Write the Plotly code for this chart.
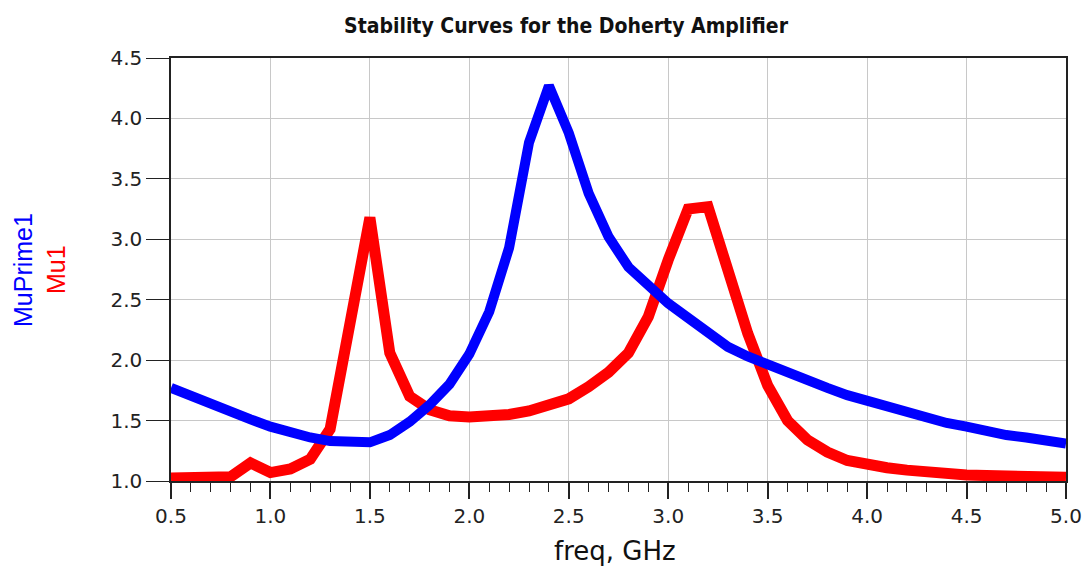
import plotly.graph_objects as go

freq = [0.5, 0.6, 0.7, 0.8, 0.9, 1.0, 1.1, 1.2, 1.3, 1.4, 1.5, 1.6, 1.7, 1.8, 1.9,
        2.0, 2.1, 2.2, 2.3, 2.4, 2.5, 2.6, 2.7, 2.8, 2.9, 3.0, 3.1, 3.2, 3.3, 3.4,
        3.5, 3.6, 3.7, 3.8, 3.9, 4.0, 4.1, 4.2, 4.3, 4.4, 4.5, 4.6, 4.7, 4.8, 4.9, 5.0]

mu_prime1 = [1.77, 1.70, 1.63, 1.57, 1.51, 1.45, 1.40, 1.36, 1.33, 1.32, 1.32, 1.38,
             1.49, 1.63, 1.80, 2.05, 2.40, 2.93, 3.80, 4.27, 3.88, 3.38, 3.02, 2.77,
             2.61, 2.47, 2.35, 2.22, 2.11, 2.03, 1.96, 1.89, 1.82, 1.77, 1.71, 1.66,
             1.61, 1.56, 1.52, 1.48, 1.45, 1.41, 1.38, 1.36, 1.34, 1.31]

mu1 = [1.025, 1.025, 1.025, 1.035, 1.15, 1.07, 1.10, 1.18, 1.43, 2.32, 3.18, 2.06,
       1.70, 1.59, 1.54, 1.53, 1.53, 1.55, 1.58, 1.62, 1.68, 1.78, 1.90, 2.06,
       2.36, 2.83, 3.25, 3.27, 2.75, 2.22, 1.79, 1.50, 1.34, 1.24, 1.17, 1.13,
       1.11, 1.09, 1.07, 1.06, 1.05, 1.045, 1.04, 1.035, 1.03, 1.03]

x_ticks = [0.5, 1.0, 1.5, 2.0, 2.5, 3.0, 3.5, 4.0, 4.5, 5.0]
y_ticks = [1.0, 1.5, 2.0, 2.5, 3.0, 3.5, 4.0, 4.5]

title_text = "Stability Curves for the Doherty Amplifier"
x_label = "freq, GHz"
y_label_blue = "MuPrime1"
y_label_red = "Mu1"

BLUE = "#0000ff"
RED = "#ff0000"

fig = go.Figure()
fig.add_trace(go.Scatter(x=freq, y=mu1, mode="lines", name=y_label_red,
                         line=dict(color=RED, width=11)))
fig.add_trace(go.Scatter(x=freq, y=mu_prime1, mode="lines", name=y_label_blue,
                         line=dict(color=BLUE, width=10)))

tick_font = dict(family="DejaVu Sans, Arial, sans-serif", size=20, color="#222222")

fig.update_layout(
    width=1086, height=574,
    margin=dict(l=171, r=20, t=58, b=93, autoexpand=False),
    paper_bgcolor="white", plot_bgcolor="white",
    showlegend=False,
    title=dict(text="<b>" + title_text + "</b>", x=566 / 1086, xref="container",
               y=1 - 26 / 574, yref="container", xanchor="center", yanchor="middle",
               font=dict(family="DejaVu Sans Condensed, DejaVu Sans, sans-serif",
                         size=21, color="#111111")),
    xaxis=dict(range=[0.5, 5.0], tickvals=x_ticks, ticktext=[f"{v:.1f}" for v in x_ticks],
               showgrid=True, gridcolor="#c8c8c8", gridwidth=1, automargin=False,
               showline=True, linecolor="#222222", linewidth=1.5, mirror=True,
               ticks="outside", ticklen=16, tickwidth=1.5, tickcolor="#222222",
               minor=dict(dtick=0.1, tick0=0.5, ticks="outside", ticklen=9,
                          tickwidth=1.2, tickcolor="#222222", showgrid=False),
               tickfont=tick_font, zeroline=False),
    yaxis=dict(range=[1.0, 4.5], tickvals=y_ticks, ticktext=[f"{v:.1f}" for v in y_ticks],
               showgrid=True, gridcolor="#c8c8c8", gridwidth=1, automargin=False,
               showline=True, linecolor="#222222", linewidth=1.5, mirror=True,
               ticks="outside", ticklen=23, tickwidth=1.2, tickcolor="#222222",
               tickfont=tick_font, zeroline=False),
)

# y-axis line extends slightly below the x axis
fig.add_shape(type="line", xref="paper", yref="paper", x0=0, x1=0, y0=-16 / 423, y1=0,
              line=dict(color="#222222", width=1.5))

fig.add_annotation(text=y_label_blue, xref="paper", yref="paper",
                   x=(23 - 171) / 895, y=(481 - 270) / 423, showarrow=False,
                   textangle=-90, xanchor="center", yanchor="middle",
                   font=dict(family="Liberation Sans, Arial, sans-serif", size=25, color=BLUE))
fig.add_annotation(text=y_label_red, xref="paper", yref="paper",
                   x=(56 - 171) / 895, y=(481 - 270) / 423, showarrow=False,
                   textangle=-90, xanchor="center", yanchor="middle",
                   font=dict(family="Liberation Sans, Arial, sans-serif", size=25, color=RED))
fig.add_annotation(text=x_label, xref="paper", yref="paper",
                   x=(615 - 171) / 895, y=(481 - 551) / 423, showarrow=False,
                   xanchor="center", yanchor="middle",
                   font=dict(family="DejaVu Sans, Arial, sans-serif", size=26, color="#111111"))

fig.write_html("out.html")
